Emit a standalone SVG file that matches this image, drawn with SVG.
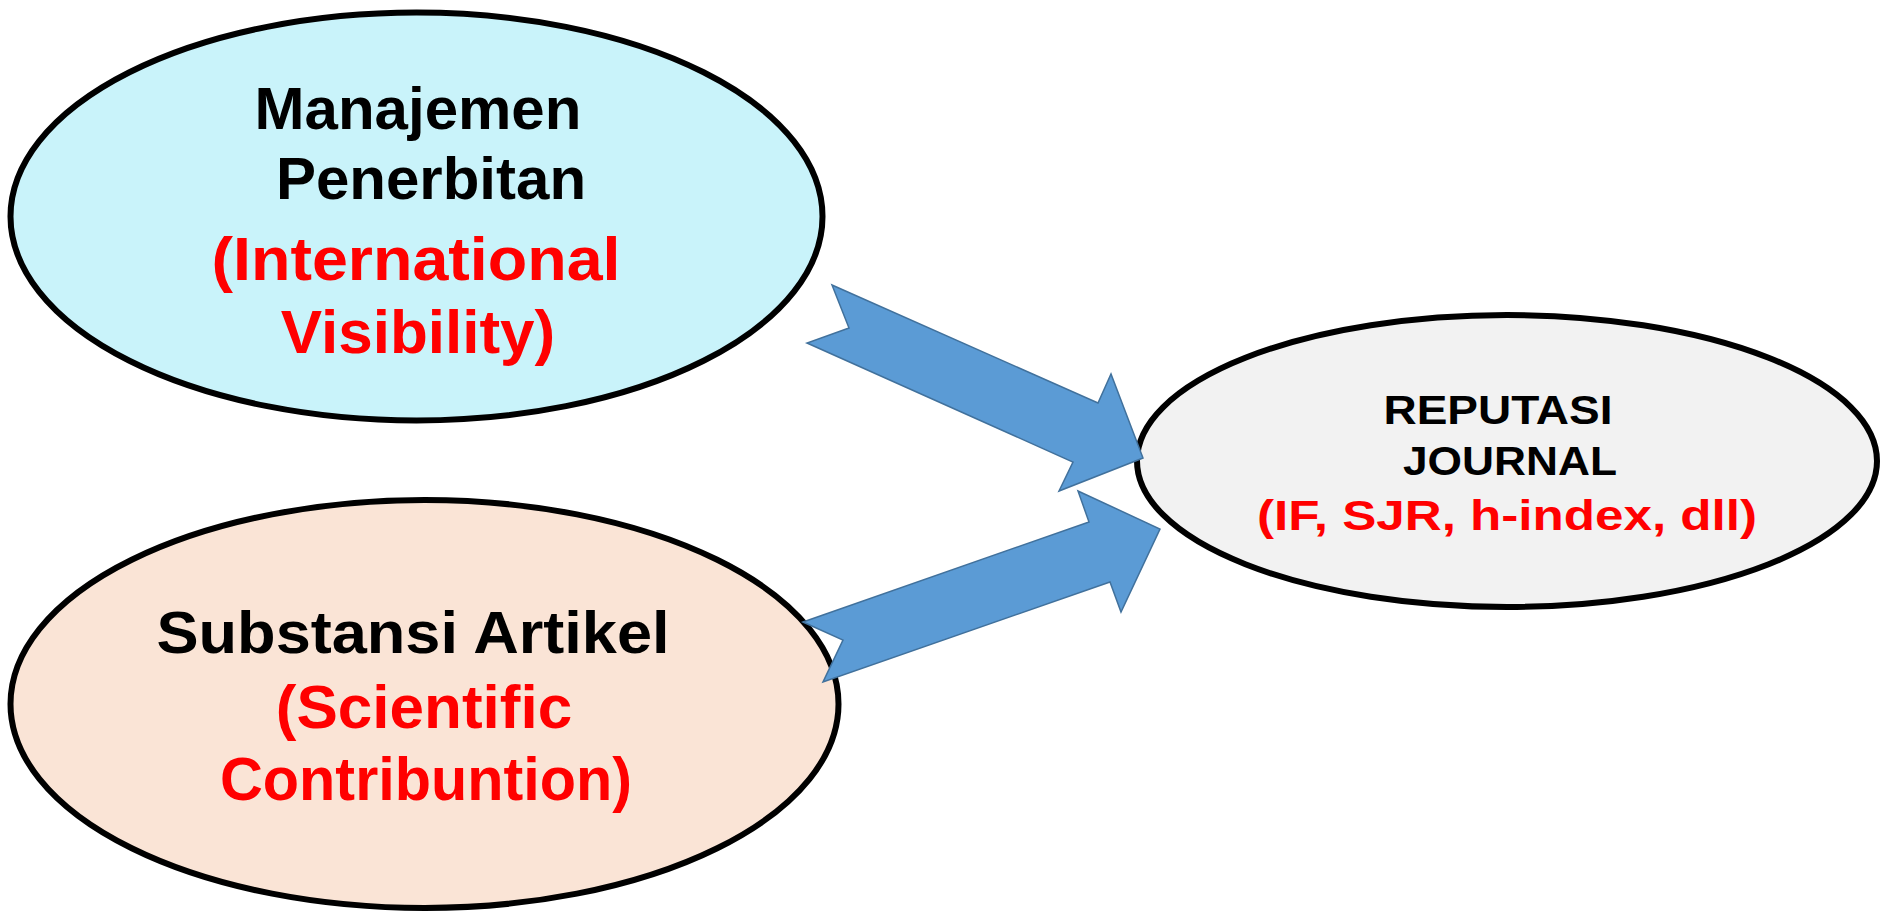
<svg xmlns="http://www.w3.org/2000/svg" width="1887" height="911" viewBox="0 0 1887 911">
<style>
.node{stroke:#000;stroke-width:6}
.t{font-family:"Liberation Sans",Arial,sans-serif;font-weight:bold;text-anchor:middle}
.k{fill:#000}
.r{fill:#FF0000}
.arr{fill:#5B9BD5;stroke:#41719C;stroke-width:1.5;stroke-linejoin:miter}
</style>
<rect width="1887" height="911" fill="#fff"/>
<g id="node-manajemen">
<ellipse class="node" cx="416.5" cy="216.5" rx="406" ry="204" fill="#C9F3FA"/>
<text class="t k" x="418" y="129" font-size="60">Manajemen</text>
<text class="t k" x="431" y="199" font-size="60">Penerbitan</text>
<text class="t r" x="416" y="280" font-size="62" textLength="409" lengthAdjust="spacingAndGlyphs">(International</text>
<text class="t r" x="418" y="353" font-size="62">Visibility)</text>
</g>
<g id="node-substansi">
<ellipse class="node" cx="424.5" cy="704" rx="414" ry="204" fill="#FAE4D6"/>
<text class="t k" x="413" y="653" font-size="60" textLength="513" lengthAdjust="spacingAndGlyphs">Substansi Artikel</text>
<text class="t r" x="424" y="728" font-size="62">(Scientific</text>
<text class="t r" x="426" y="800" font-size="62" textLength="412" lengthAdjust="spacingAndGlyphs">Contribuntion)</text>
</g>
<g id="node-reputasi">
<ellipse class="node" cx="1507" cy="461" rx="370" ry="146" fill="#F2F2F2"/>
<text class="t k" x="1498" y="424" font-size="41" textLength="229" lengthAdjust="spacingAndGlyphs">REPUTASI</text>
<text class="t k" x="1510" y="475" font-size="41" textLength="214" lengthAdjust="spacingAndGlyphs">JOURNAL</text>
<text class="t r" x="1507" y="530" font-size="42" textLength="500" lengthAdjust="spacingAndGlyphs">(IF, SJR, h-index, dll)</text>
</g>
<g id="connectors">
<polygon class="arr" points="832,285 1098,403 1111,374 1143,458 1059,491 1073,462 807,343 849,328"/>
<polygon class="arr" points="803,622 1089,522 1078,491 1160,529 1121,612 1110,582 823,682 843,640"/>
</g>
</svg>
